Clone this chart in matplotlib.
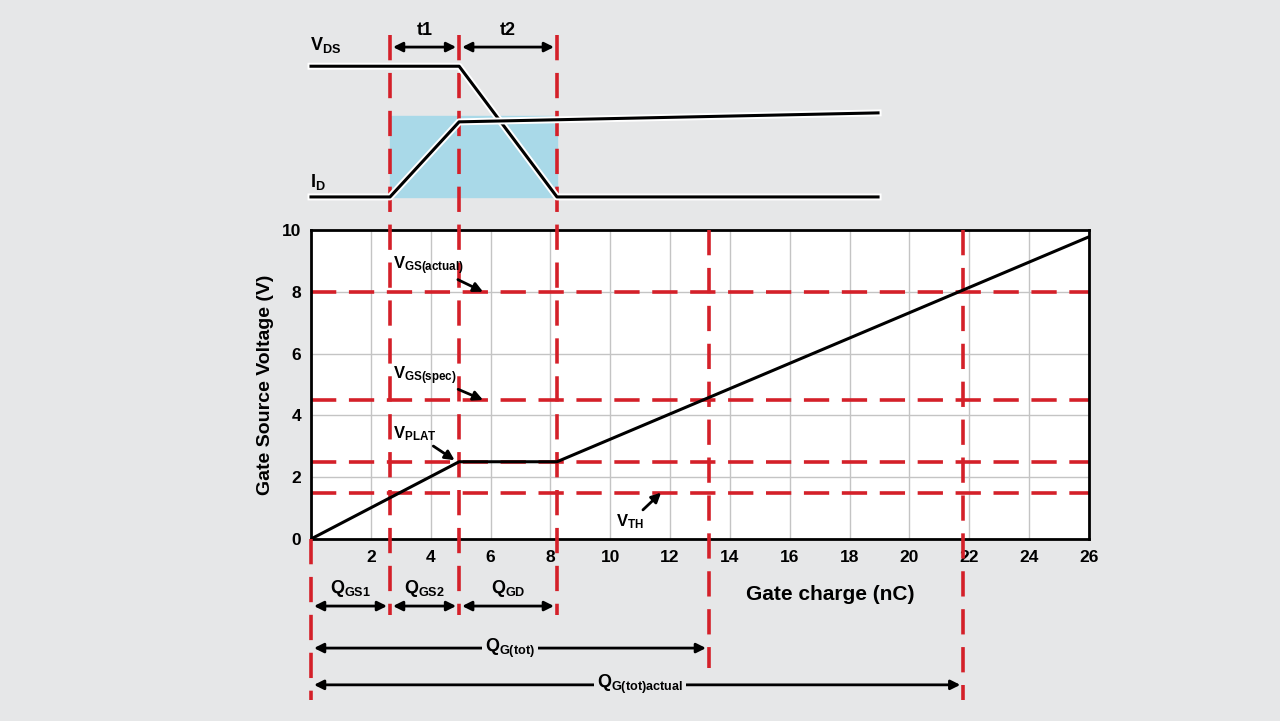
import numpy as np
import matplotlib.pyplot as plt
import matplotlib.patheffects as pe

plt.rcParams['font.family'] = ['Liberation Sans', 'DejaVu Sans']
plt.rcParams['font.weight'] = 'bold'
plt.rcParams['mathtext.fontset'] = 'custom'
plt.rcParams['mathtext.rm'] = 'Liberation Sans'
plt.rcParams['mathtext.bf'] = 'Liberation Sans:bold'

# Gate charge curve (nC, V)
qg = [0, 4.95, 8.22, 26.0]
vgs = [0, 2.5, 2.5, 9.78]

# reference levels (V) and charge boundaries (nC)
v_levels = [8.0, 4.5, 2.5, 1.5]
q_gs1 = 2.64
q_gs2 = 4.95
q_gd = 8.22
q_tot = 13.3
q_tot_act = 21.8

# switching waveforms above the chart (arbitrary levels, drawn on the same x scale)
vds_x = [0, 4.95, 8.22, 18.95]
vds_y = [15.3, 15.3, 11.07, 11.07]
id_x = [0, 2.64, 4.95, 18.95]
id_y = [11.07, 11.07, 13.5, 13.79]

xticks = [2, 4, 6, 8, 10, 12, 14, 16, 18, 20, 22, 24, 26]
yticks = [0, 2, 4, 6, 8, 10]

red = '#d42029'
bg = '#e6e7e8'

fig = plt.figure(figsize=(12.8, 7.21), dpi=100, facecolor=bg)
ax = fig.add_axes([311/1280, 1 - 539/721, 778/1280, 309/721])
ax.set_xlim(0, 26)
ax.set_ylim(0, 10)
ax.set_facecolor('white')

for x in range(2, 26, 2):
    ax.axvline(x, color='#c4c4c4', lw=1, zorder=1)
for y in [2, 4, 6, 8]:
    ax.axhline(y, color='#c4c4c4', lw=1, zorder=1)

for sp in ax.spines.values():
    sp.set_linewidth(2)
    sp.set_color('black')

ax.set_xticks(xticks)
ax.set_yticks(yticks)
ax.tick_params(length=0, labelsize=12.5, pad=8)
ax.tick_params(axis='y', pad=7)
ax.set_ylabel('Gate Source Voltage (V)', fontsize=14, fontweight='bold')
ax.yaxis.set_label_coords(-0.048, 0.5)
ax.set_xlabel('Gate charge (nC)', fontsize=15, fontweight='bold')
ax.xaxis.set_label_coords(0.668, -0.15)

dash = dict(color=red, lw=2.6, dashes=(7, 3.5))

# horizontal reference levels
for v in v_levels:
    ax.plot([0, 26], [v, v], zorder=2, **dash)

# vertical charge boundaries
ax.plot([0, 0], [0, -5.2], clip_on=False, zorder=3, **dash)
for q in [q_gs1, q_gs2, q_gd]:
    ax.plot([q, q], [16.3, -2.46], clip_on=False, zorder=3, **dash)
ax.plot([q_tot, q_tot], [10, -4.17], clip_on=False, zorder=3, **dash)
ax.plot([q_tot_act, q_tot_act], [10, -5.2], clip_on=False, zorder=3, **dash)

# gate voltage curve
ax.plot(qg, vgs, color='black', lw=2.2, zorder=4)

# top waveforms
halo = [pe.withStroke(linewidth=5, foreground='white')]
ax.fill_between([q_gs1, q_gd], 11.07, 13.69, color='#a9d9e8', clip_on=False, zorder=1)
ax.plot(vds_x, vds_y, color='black', lw=2.2, clip_on=False, zorder=4, path_effects=halo)
ax.plot(id_x, id_y, color='black', lw=2.2, clip_on=False, zorder=4, path_effects=halo)
ax.text(-0.05, 15.98, r'$\mathbf{V_{DS}}$', fontsize=13, ha='left', va='center')
ax.text(-0.05, 11.55, r'$\mathbf{I_{D}}$', fontsize=13, ha='left', va='center')

arr2 = dict(arrowstyle='<|-|>', color='black', lw=2, mutation_scale=14, shrinkA=0, shrinkB=0)
arr1 = dict(arrowstyle='-|>', color='black', lw=2, mutation_scale=14, shrinkA=0, shrinkB=0)

def span(x0, x1, y, label, ly):
    ax.annotate('', xy=(x1 - 0.1, y), xytext=(x0 + 0.1, y), arrowprops=arr2, annotation_clip=False)
    ax.text((x0 + x1) / 2, ly, label, fontsize=13, ha='center', va='center')

span(q_gs1, q_gs2, 15.92, 't1', 16.47)
span(q_gs2, q_gd, 15.92, 't2', 16.47)
span(0, q_gs1, -2.17, r'$\mathbf{Q_{GS1}}$', -1.6)
span(q_gs1, q_gs2, -2.17, r'$\mathbf{Q_{GS2}}$', -1.6)
span(q_gs2, q_gd, -2.17, r'$\mathbf{Q_{GD}}$', -1.6)

lab = dict(fontsize=13, ha='center', va='center',
           bbox=dict(facecolor=bg, edgecolor='none', pad=2))
ax.annotate('', xy=(q_tot - 0.1, -3.53), xytext=(0.1, -3.53), arrowprops=arr2, annotation_clip=False)
ax.text(6.65, -3.53, r'$\mathbf{Q_{G(tot)}}$', **lab)
ax.annotate('', xy=(q_tot_act - 0.1, -4.72), xytext=(0.1, -4.72), arrowprops=arr2, annotation_clip=False)
ax.text(11.0, -4.72, r'$\mathbf{Q_{G(tot)actual}}$', **lab)

# level annotations
ax.annotate(r'$\mathbf{V_{GS(actual)}}$', xy=(5.75, 8.0), xytext=(2.75, 8.85),
            fontsize=12, va='center', arrowprops=arr1)
ax.annotate(r'$\mathbf{V_{GS(spec)}}$', xy=(5.75, 4.5), xytext=(2.75, 5.3),
            fontsize=12, va='center', arrowprops=arr1)
ax.annotate(r'$\mathbf{V_{PLAT}}$', xy=(4.8, 2.55), xytext=(2.75, 3.4),
            fontsize=12, va='center', arrowprops=arr1)
ax.annotate(r'$\mathbf{V_{TH}}$', xy=(11.7, 1.5), xytext=(10.2, 0.55),
            fontsize=12, va='center', arrowprops=arr1)

fig.savefig('out.png', dpi=100, facecolor=bg)
